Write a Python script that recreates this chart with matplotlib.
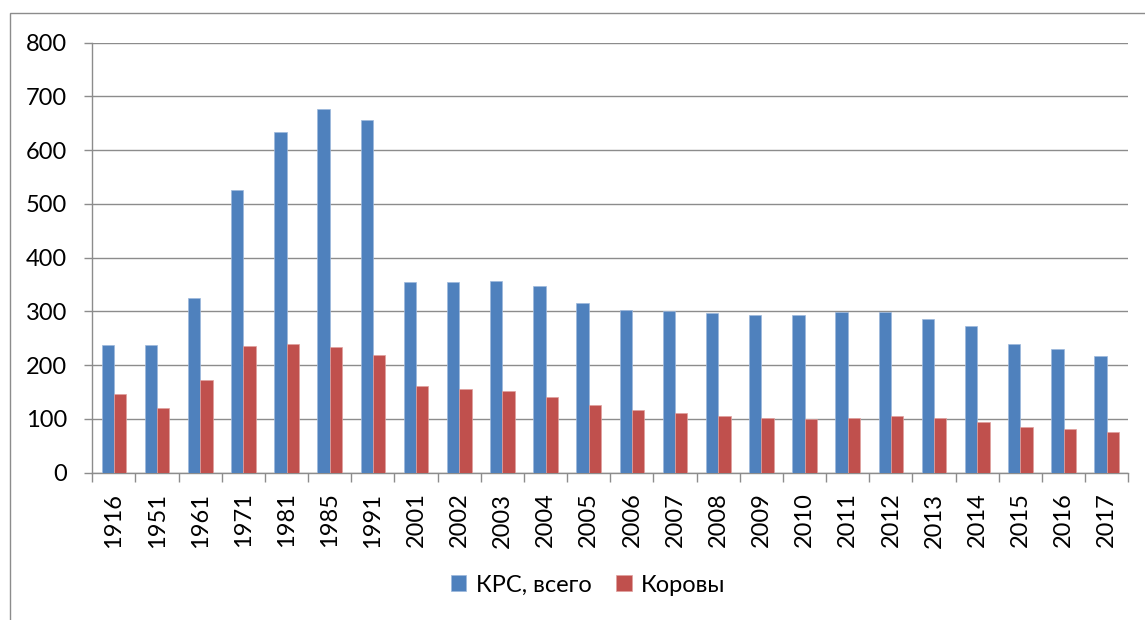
import matplotlib
matplotlib.use("Agg")
import matplotlib.pyplot as plt
from matplotlib.patches import Rectangle
import numpy as np

years = ["1916", "1951", "1961", "1971", "1981", "1985", "1991", "2001", "2002", "2003",
         "2004", "2005", "2006", "2007", "2008", "2009", "2010", "2011", "2012", "2013",
         "2014", "2015", "2016", "2017"]
krs_total = [237, 237, 324, 526, 633, 677, 657, 355, 354, 356,
             348, 316, 303, 300, 297, 294, 294, 298, 298, 285,
             272, 240, 230, 216]
cows = [147, 120, 173, 235, 239, 234, 218, 161, 156, 151,
        141, 126, 116, 111, 106, 101, 100, 101, 105, 101,
        94, 84, 81, 76]
series_names = ["КРС, всего", "Коровы"]
yticks = [0, 100, 200, 300, 400, 500, 600, 700, 800]

plt.rcParams['font.family'] = ['Lato', 'DejaVu Sans']

W, H = 1145, 620
PX = 72 / 100  # points per pixel
fig = plt.figure(figsize=(W / 100, H / 100), dpi=100)
ax = fig.add_axes([92.3 / W, 1 - 472.5 / H, (1128.3 - 92.3) / W, (472.5 - 42.7) / H])

n = len(years)
x = np.arange(n)
bw = 1 / 3.5
blue = "#4F81BD"
red = "#C0504D"
ax.bar(x - bw / 2, krs_total, width=bw, color=blue, edgecolor="#9db8dc", linewidth=0.5,
       label=series_names[0], zorder=3)
ax.bar(x + bw / 2, cows, width=bw, color=red, edgecolor="#e0a09e", linewidth=0.5,
       label=series_names[1], zorder=3)

grid_c = "#8c8c8c"
lw = 1.4 * PX
fs = 17
ax.set_xlim(-0.5, n - 0.5)
ax.set_ylim(0, 800)
ax.set_yticks(yticks)
ax.set_yticklabels([str(v) for v in yticks])
ax.yaxis.grid(True, color=grid_c, linewidth=lw, zorder=0)
ax.set_axisbelow(True)

ax.set_xticks(x)
ax.set_xticklabels(years, rotation=90)
ax.set_xticks(np.arange(n + 1) - 0.5, minor=True)
ax.tick_params(axis='x', which='major', length=0, pad=20 * PX, labelsize=fs)
ax.tick_params(axis='x', which='minor', length=9 * PX, width=lw, color=grid_c, direction='out')
ax.tick_params(axis='y', which='major', length=8 * PX, width=lw, color=grid_c, pad=17 * PX,
               labelsize=fs)

for s in ['top', 'right']:
    ax.spines[s].set_visible(False)
for s in ['left', 'bottom']:
    ax.spines[s].set_color(grid_c)
    ax.spines[s].set_linewidth(lw)

fig.legend(loc='center', bbox_to_anchor=(588 / W, 1 - 585 / H), ncol=2, frameon=False,
           fontsize=fs, handlelength=0.66, handleheight=0.66, handletextpad=0.4,
           columnspacing=1.05)

fig.add_artist(Rectangle((9.5 / W, -0.1), 1.2, 1.1 - 12.7 / H, transform=fig.transFigure,
                         fill=False, edgecolor=grid_c, linewidth=lw, clip_on=False))

fig.savefig("out.png", dpi=100)
